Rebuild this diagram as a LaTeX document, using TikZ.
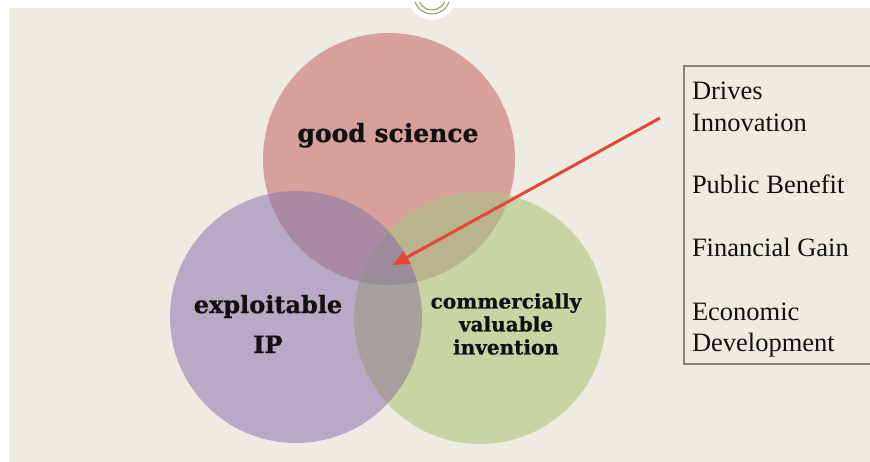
\documentclass[tikz,border=0pt]{standalone}
\usepackage{fontspec}
\setmainfont{Liberation Serif}
\newfontfamily\vennfont{DejaVu Serif}[BoldFeatures={FakeBold=0.8}]
\usetikzlibrary{arrows.meta}
\definecolor{vnpaper}{HTML}{EEECE2}
\definecolor{vnred}{HTML}{D8A09A}
\definecolor{vnpurple}{HTML}{B8AAC7}
\definecolor{vngreen}{HTML}{C8D5A3}
\definecolor{vnredpur}{HTML}{AA89A5}
\definecolor{vnredgrn}{HTML}{B9B48C}
\definecolor{vnpurgrn}{HTML}{A6A09F}
\definecolor{vncore}{HTML}{9C8C9A}
\definecolor{vnarrow}{HTML}{E5453A}
\definecolor{vnink}{HTML}{121111}
\definecolor{vnframe}{HTML}{85847D}
\definecolor{vnlogo}{HTML}{8F9A6C}

\begin{document}
\begin{tikzpicture}[
  x=1pt, y=-1pt,
  every node/.style={inner sep=0pt, outer sep=0pt, text=vnink},
  lbl/.style n args={2}{font=\vennfont\bfseries\fontsize{#1}{#2}\selectfont, align=center},
  item/.style={font=\fontsize{26.5}{32}\selectfont, anchor=base west},
  pointer/.style={draw=vnarrow, line width=3pt, -{Triangle[length=16pt,width=14pt]}},
]
\useasboundingbox (0,0) rectangle (870,462);
\fill[white] (0,0) rectangle (870,462);
\fill[vnpaper] (9,8) rectangle (870,462);

% emblem at the top, cut by the slide edge
\fill[white] (432,-3) circle (23);
\draw[vnlogo, line width=1pt] (432,-4) ++(20:18) arc[start angle=20, end angle=160, radius=18];
\draw[vnlogo, line width=1pt] (432,-4) ++(25:14) arc[start angle=25, end angle=155, radius=14];

% circle centres, one radius
\def\R{126}
\coordinate (gs) at (389,159);
\coordinate (ip) at (296,317);
\coordinate (cv) at (480,318);

\fill[vnred]    (gs) circle (\R);
\fill[vnpurple] (ip) circle (\R);
\fill[vngreen]  (cv) circle (\R);
\begin{scope}
  \clip (gs) circle (\R);
  \fill[vnredpur] (ip) circle (\R);
  \fill[vnredgrn] (cv) circle (\R);
\end{scope}
\begin{scope}
  \clip (ip) circle (\R);
  \fill[vnpurgrn] (cv) circle (\R);
  \clip (cv) circle (\R);
  \fill[vncore] (gs) circle (\R);
\end{scope}

\node[lbl={25}{30}, anchor=base] (gsl) at (388,142) {good science};
\node[lbl={24}{40}] (ipl) at (268,324) {exploitable\\IP};
\node[lbl={20}{23}] (cvl) at (506,324) {commercially\\valuable\\invention};

% pointer into the common part
\coordinate (tail) at (660,118);
\coordinate (core) at (393,265);
\draw[pointer] (tail) -- (core);

% list of benefits, frame runs off the right edge
\node[draw=vnframe, line width=1.5pt, minimum width=200, minimum height=298,
      anchor=north west] (benefits) at (684,66) {};
\foreach \yb/\t in {100/Drives, 132/Innovation, 194/Public Benefit,
                    257/Financial Gain, 320/Economic, 351/Development}{
  \node[item] (b\yb) at (692,\yb) {\t};
}

\end{tikzpicture}
\end{document}
